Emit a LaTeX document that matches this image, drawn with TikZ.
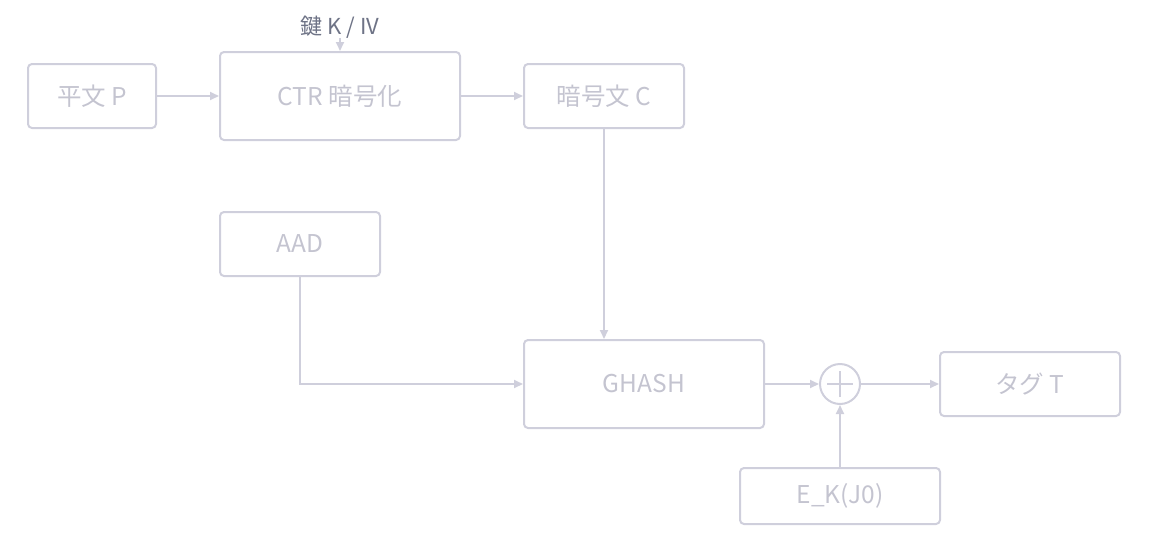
\documentclass[tikz,border=0pt]{standalone}
\usepackage{fontspec}
\setmainfont{Noto Sans CJK JP}
\usetikzlibrary{arrows.meta,positioning}
\definecolor{edgegray}{HTML}{CFCFDC}
\definecolor{textgray}{HTML}{C4C4D0}
\definecolor{labelgray}{HTML}{6E7386}

\begin{document}
\begin{tikzpicture}[
    x=1pt, y=-1pt,
    box/.style={draw=edgegray, line width=2pt, rounded corners=4pt, text=textgray, font=\fontsize{24.5}{28}\selectfont, inner sep=0pt},
    xorop/.style={draw=edgegray, line width=2pt, circle, minimum size=40pt, inner sep=0pt},
    flow/.style={-{Triangle[length=9pt,width=8pt]}, draw=edgegray, line width=2pt}
]
\useasboundingbox (0,0) rectangle (1160,552);

\node[box, minimum width=128pt, minimum height=64pt] (plain) at (92,96) {平文 P};
\node[box, minimum width=240pt, minimum height=88pt] (ctr) at (340,96) {CTR 暗号化};
\node[box, minimum width=160pt, minimum height=64pt] (cipher) at (604,96) {暗号文 C};
\node[box, minimum width=160pt, minimum height=64pt] (aad) at (300,244) {AAD};
\node[box, minimum width=240pt, minimum height=88pt] (ghash) at (644,384) {GHASH};
\node[xorop] (xor) at (840,384) {};
\node[box, minimum width=180pt, minimum height=64pt] (tag) at (1030,384) {タグ T};
\node[box, minimum width=200pt, minimum height=56pt] (ekj) at (840,496) {E\_K(J0)};

\node[text=labelgray, font=\fontsize{22}{26}\selectfont, inner sep=0pt] (key) at (340,27) {鍵 K / IV};

% plus sign in the xor
\draw[edgegray, line width=2pt] ([yshift=-13pt]xor.center) -- ([yshift=13pt]xor.center);
\draw[edgegray, line width=2pt] ([xshift=-13pt]xor.center) -- ([xshift=13pt]xor.center);

\draw[flow] (key) -- (ctr);
\draw[flow] (plain) -- (ctr);
\draw[flow] (ctr) -- (cipher);
\draw[flow] (cipher.south) -- (cipher.south |- ghash.north);
\draw[flow] (aad.south) |- (ghash.west);
\draw[flow] (ghash) -- (xor);
\draw[flow] (xor) -- (tag);
\draw[flow] (ekj) -- (xor);

\end{tikzpicture}
\end{document}
